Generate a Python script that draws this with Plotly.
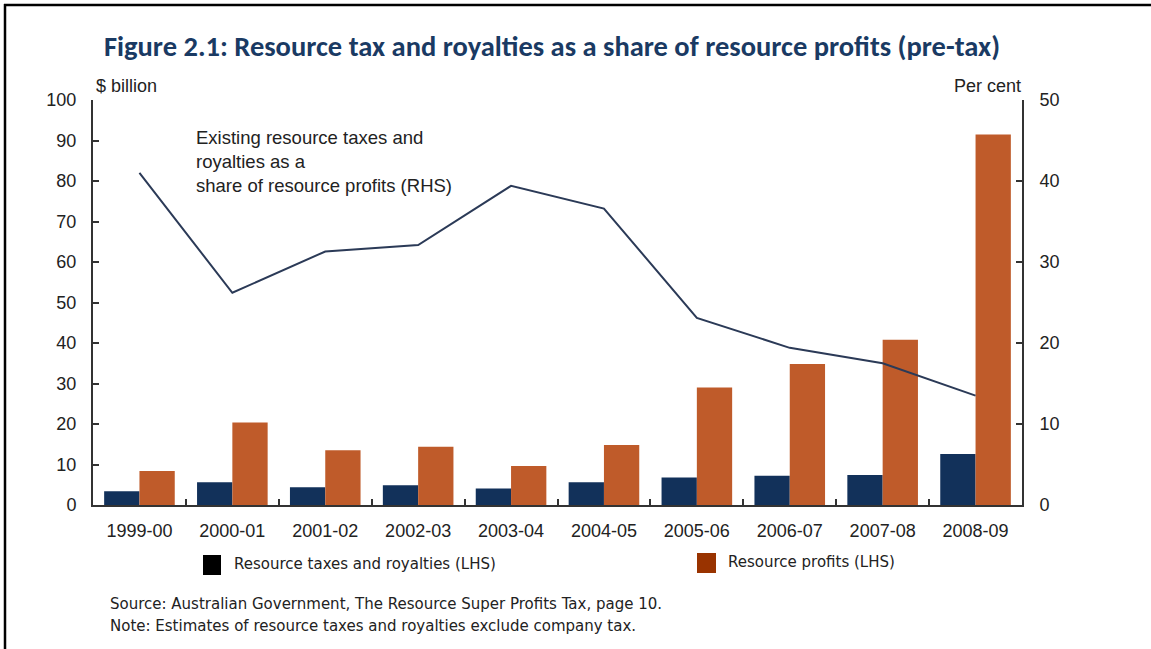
import plotly.graph_objects as go

# Financial years
years = ["1999-00", "2000-01", "2001-02", "2002-03", "2003-04",
         "2004-05", "2005-06", "2006-07", "2007-08", "2008-09"]

# $ billion (LHS)
taxes_royalties = [3.4, 5.6, 4.4, 4.9, 4.1, 5.6, 6.8, 7.2, 7.4, 12.6]
resource_profits = [8.4, 20.4, 13.5, 14.4, 9.6, 14.8, 29.0, 34.8, 40.8, 91.5]

# Per cent (RHS)
share_of_profits = [41.0, 26.2, 31.3, 32.1, 39.4, 36.6, 23.1, 19.4, 17.5, 13.5]

left_ticks = list(range(0, 101, 10))
right_ticks = list(range(0, 51, 10))

W, H = 1151, 649
L, R, T, B = 93, 129, 100, 144
PW, PH = W - L - R, H - T - B

NAVY = "#12315a"
ORANGE = "#bf5b2a"
LINE = "#2b3a57"
AXIS = "#333333"
TXT = "#222222"


def px(x):
    return (x - L) / PW


def py(y):
    return (H - B - y) / PH


fig = go.Figure()
fig.add_trace(go.Bar(x=years, y=taxes_royalties, name="Resource taxes and royalties (LHS)",
                     marker=dict(color=NAVY, line=dict(width=0))))
fig.add_trace(go.Bar(x=years, y=resource_profits, name="Resource profits (LHS)",
                     marker=dict(color=ORANGE, line=dict(width=0))))
fig.add_trace(go.Scatter(x=years, y=share_of_profits, yaxis="y2", mode="lines",
                         line=dict(color=LINE, width=2),
                         name="Existing resource taxes and royalties as a share of resource profits (RHS)"))

tick_font = dict(family="Liberation Sans, Arial, sans-serif", size=18, color=TXT)
label_font = dict(family="Liberation Sans, Arial, sans-serif", size=18.5, color=TXT)
note_font = dict(family="DejaVu Sans, Verdana, sans-serif", size=15, color=TXT)

fig.update_layout(
    width=W, height=H,
    margin=dict(l=L, r=R, t=T, b=B, pad=0),
    paper_bgcolor="white", plot_bgcolor="white",
    showlegend=False,
    barmode="group", bargap=0.24, bargroupgap=0,
    title=dict(
        text="Figure 2.1: Resource tax and royalties as a share of resource profits (pre-tax)",
        font=dict(family="Carlito, Noto Sans, sans-serif", size=28.5, color="#1a3a63", weight="bold"),
        x=552 / W, xanchor="center", xref="container",
        y=1 - 46 / H, yanchor="middle", yref="container",
    ),
    xaxis=dict(
        type="category", tickson="boundaries",
        showline=True, linecolor=AXIS, linewidth=2,
        ticks="inside", ticklen=6, tickwidth=1.5, tickcolor=AXIS,
        tickfont=tick_font, ticklabelstandoff=8,
        showgrid=False, zeroline=False, fixedrange=True,
    ),
    yaxis=dict(
        range=[0, 100], tickvals=left_ticks,
        showline=True, linecolor=AXIS, linewidth=2,
        ticks="inside", ticklen=6, tickwidth=1.5, tickcolor=AXIS,
        tickfont=tick_font, ticklabelstandoff=11,
        showgrid=False, zeroline=False,
    ),
    yaxis2=dict(
        range=[0, 50], tickvals=right_ticks, overlaying="y", side="right",
        showline=True, linecolor=AXIS, linewidth=2,
        ticks="inside", ticklen=6, tickwidth=1.5, tickcolor=AXIS,
        tickfont=tick_font, ticklabelstandoff=12,
        showgrid=False, zeroline=False,
    ),
)

annotations = [
    dict(text="$ billion", x=px(94), y=py(86), xanchor="left", yanchor="middle", font=tick_font),
    dict(text="Per cent", x=px(1023), y=py(86), xanchor="right", yanchor="middle", font=tick_font),
    dict(text="Existing resource taxes and<br>royalties as a<br>share of resource profits (RHS)",
         x=px(194), y=py(125), xanchor="left", yanchor="top", align="left", font=label_font),
    dict(text="Resource taxes and royalties (LHS)", x=px(232), y=py(564),
         xanchor="left", yanchor="middle", font=note_font),
    dict(text="Resource profits (LHS)", x=px(726), y=py(562),
         xanchor="left", yanchor="middle", font=note_font),
    dict(text="Source: Australian Government, The Resource Super Profits Tax, page 10.",
         x=px(108), y=py(604), xanchor="left", yanchor="middle", font=note_font),
    dict(text="Note: Estimates of resource taxes and royalties exclude company tax.",
         x=px(108), y=py(626), xanchor="left", yanchor="middle", font=note_font),
]
for a in annotations:
    a.update(xref="paper", yref="paper", showarrow=False)
fig.update_layout(annotations=annotations)

shapes = [
    # legend swatches
    dict(type="rect", x0=px(203), x1=px(221), y0=py(575), y1=py(555),
         fillcolor="#000000", line=dict(width=0)),
    dict(type="rect", x0=px(697), x1=px(716), y0=py(573), y1=py(553),
         fillcolor="#993300", line=dict(width=0)),
    # frame around the figure
    dict(type="line", x0=px(4), x1=px(1151), y0=py(5), y1=py(5),
         line=dict(color="black", width=2.5)),
    dict(type="line", x0=px(5), x1=px(5), y0=py(4), y1=py(649),
         line=dict(color="black", width=2.5)),
]
for s in shapes:
    s.update(xref="paper", yref="paper", layer="above")
fig.update_layout(shapes=shapes)

fig.write_html("out.html", config={"displayModeBar": False})
